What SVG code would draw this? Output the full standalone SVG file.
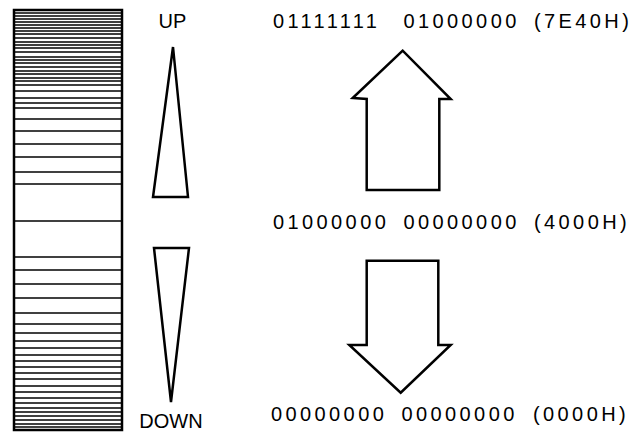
<svg xmlns="http://www.w3.org/2000/svg" width="631" height="435" viewBox="0 0 631 435">
  <style>
    .frame { fill: none; stroke: #000; stroke-width: 2.5; }
    .stripe { stroke: #000; stroke-width: 1.6; }
    .shape { fill: #fff; stroke: #000; stroke-width: 2.5; stroke-linejoin: miter; }
    .label { font-family: "Liberation Sans", Arial, sans-serif; font-size: 20px; fill: #000; }
    .code { font-family: "Liberation Sans", Arial, sans-serif; font-size: 20px; letter-spacing: 3.4px; fill: #000; }
  </style>

  <rect width="631" height="435" fill="#fff"/>

  <!-- striped scale bar: dense at both ends, sparse in the middle -->
  <g id="scale-bar">
    <g id="stripes">
      <line class="stripe" x1="14" x2="122" y1="13" y2="13"/>
      <line class="stripe" x1="14" x2="122" y1="16" y2="16"/>
      <line class="stripe" x1="14" x2="122" y1="19" y2="19"/>
      <line class="stripe" x1="14" x2="122" y1="22" y2="22"/>
      <line class="stripe" x1="14" x2="122" y1="25" y2="25"/>
      <line class="stripe" x1="14" x2="122" y1="28" y2="28"/>
      <line class="stripe" x1="14" x2="122" y1="31" y2="31"/>
      <line class="stripe" x1="14" x2="122" y1="34" y2="34"/>
      <line class="stripe" x1="14" x2="122" y1="38" y2="38"/>
      <line class="stripe" x1="14" x2="122" y1="42" y2="42"/>
      <line class="stripe" x1="14" x2="122" y1="45" y2="45"/>
      <line class="stripe" x1="14" x2="122" y1="48" y2="48"/>
      <line class="stripe" x1="14" x2="122" y1="52" y2="52"/>
      <line class="stripe" x1="14" x2="122" y1="57" y2="57"/>
      <line class="stripe" x1="14" x2="122" y1="60" y2="60"/>
      <line class="stripe" x1="14" x2="122" y1="63" y2="63"/>
      <line class="stripe" x1="14" x2="122" y1="67" y2="67"/>
      <line class="stripe" x1="14" x2="122" y1="71" y2="71"/>
      <line class="stripe" x1="14" x2="122" y1="74" y2="74"/>
      <line class="stripe" x1="14" x2="122" y1="78" y2="78"/>
      <line class="stripe" x1="14" x2="122" y1="81" y2="81"/>
      <line class="stripe" x1="14" x2="122" y1="85" y2="85"/>
      <line class="stripe" x1="14" x2="122" y1="91" y2="91"/>
      <line class="stripe" x1="14" x2="122" y1="98" y2="98"/>
      <line class="stripe" x1="14" x2="122" y1="103" y2="103"/>
      <line class="stripe" x1="14" x2="122" y1="108" y2="108"/>
      <line class="stripe" x1="14" x2="122" y1="119" y2="119"/>
      <line class="stripe" x1="14" x2="122" y1="131" y2="131"/>
      <line class="stripe" x1="14" x2="122" y1="144" y2="144"/>
      <line class="stripe" x1="14" x2="122" y1="157" y2="157"/>
      <line class="stripe" x1="14" x2="122" y1="172" y2="172"/>
      <line class="stripe" x1="14" x2="122" y1="184" y2="184"/>
      <line class="stripe" x1="14" x2="122" y1="221" y2="221" stroke-width="2.6"/>
      <line class="stripe" x1="14" x2="122" y1="257" y2="257"/>
      <line class="stripe" x1="14" x2="122" y1="270" y2="270"/>
      <line class="stripe" x1="14" x2="122" y1="284" y2="284"/>
      <line class="stripe" x1="14" x2="122" y1="298" y2="298"/>
      <line class="stripe" x1="14" x2="122" y1="313" y2="313"/>
      <line class="stripe" x1="14" x2="122" y1="324" y2="324"/>
      <line class="stripe" x1="14" x2="122" y1="333" y2="333"/>
      <line class="stripe" x1="14" x2="122" y1="341" y2="341"/>
      <line class="stripe" x1="14" x2="122" y1="348" y2="348"/>
      <line class="stripe" x1="14" x2="122" y1="355" y2="355"/>
      <line class="stripe" x1="14" x2="122" y1="361" y2="361"/>
      <line class="stripe" x1="14" x2="122" y1="367" y2="367"/>
      <line class="stripe" x1="14" x2="122" y1="373" y2="373"/>
      <line class="stripe" x1="14" x2="122" y1="379" y2="379"/>
      <line class="stripe" x1="14" x2="122" y1="386" y2="386"/>
      <line class="stripe" x1="14" x2="122" y1="392" y2="392"/>
      <line class="stripe" x1="14" x2="122" y1="398" y2="398"/>
      <line class="stripe" x1="14" x2="122" y1="403" y2="403"/>
      <line class="stripe" x1="14" x2="122" y1="408" y2="408"/>
      <line class="stripe" x1="14" x2="122" y1="412" y2="412"/>
      <line class="stripe" x1="14" x2="122" y1="416" y2="416"/>
      <line class="stripe" x1="14" x2="122" y1="420" y2="420"/>
      <line class="stripe" x1="14" x2="122" y1="424" y2="424"/>
      <line class="stripe" x1="14" x2="122" y1="427" y2="427"/>
    </g>
    <rect class="frame" x="14" y="10" width="108" height="420"/>
  </g>

  <!-- direction wedges -->
  <g id="up-wedge">
    <polygon class="shape" points="173,47 153,197 188,197"/>
    <text class="label" x="172.5" y="28" text-anchor="middle">UP</text>
  </g>
  <g id="down-wedge">
    <polygon class="shape" points="154,248 189,248 171,402"/>
    <text class="label" x="171" y="428" text-anchor="middle">DOWN</text>
  </g>

  <!-- hollow block arrows -->
  <g id="up-arrow">
    <polygon class="shape" points="402.7,50.7 352.7,98 366.7,99 366.7,190 439.3,190 439.3,99 450.7,99"/>
  </g>
  <g id="down-arrow">
    <polygon class="shape" points="366.7,260.7 438.3,260.7 438.3,345 450.7,345 400.7,392.7 349.3,345 366.7,345"/>
  </g>

  <!-- code values -->
  <g id="code-max">
    <text class="code" y="28"><tspan x="273">01111111</tspan><tspan x="403.5">01000000</tspan><tspan x="534">(7E40H)</tspan></text>
  </g>
  <g id="code-mid">
    <text class="code" y="229"><tspan x="273">01000000</tspan><tspan x="403.5">00000000</tspan><tspan x="534">(4000H)</tspan></text>
  </g>
  <g id="code-min">
    <text class="code" y="421"><tspan x="271">00000000</tspan><tspan x="401.5">00000000</tspan><tspan x="533">(0000H)</tspan></text>
  </g>
</svg>
